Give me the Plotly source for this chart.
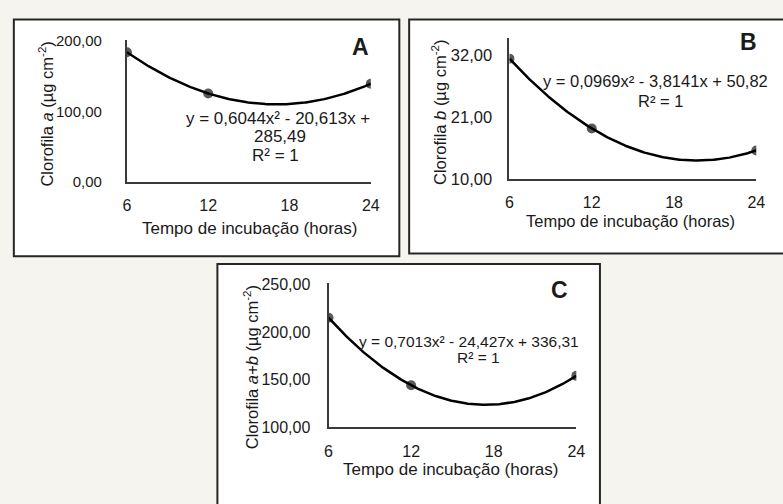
import numpy as np
import plotly.graph_objects as go

# ---------------- data ----------------
hours = [6, 12, 24]
chl_a = [183.57, 125.17, 138.91]
chl_b = [31.42, 19.00, 15.09]
chl_ab = [215.00, 144.17, 154.01]
x_ticks = [6, 12, 18, 24]
y_ticks_a = [0, 100, 200]
y_ticks_b = [10, 21, 32]
y_ticks_ab = [100, 150, 200, 250]
eq_a = ["y = 0,6044x² - 20,613x +", "285,49", "R² = 1"]
eq_b = ["y = 0,0969x² - 3,8141x + 50,82", "R² = 1"]
eq_ab = ["y = 0,7013x² - 24,427x + 336,31", "R² = 1"]

W, H = 783, 504
FONT = "Liberation Sans, Arial, sans-serif"


def px(x):
    return x / W


def py(y):
    return 1 - y / H


def fmt(v):
    return f"{v:.2f}".replace(".", ",")


fig = go.Figure()

panels = [
    dict(x="x", y="y", vals=chl_a),
    dict(x="x2", y="y2", vals=chl_b),
    dict(x="x3", y="y3", vals=chl_ab),
]

for p in panels:
    coef = np.polyfit(hours, p["vals"], 2)
    xs = np.linspace(min(hours), max(hours), 200)
    fig.add_trace(go.Scatter(x=hours, y=p["vals"], mode="markers",
                             marker=dict(color="#595959", size=10),
                             xaxis=p["x"], yaxis=p["y"], showlegend=False,
                             hoverinfo="skip"))
    fig.add_trace(go.Scatter(x=xs, y=np.polyval(coef, xs), mode="lines",
                             line=dict(color="black", width=2.5),
                             xaxis=p["x"], yaxis=p["y"], showlegend=False,
                             hoverinfo="skip"))

axis_common = dict(showgrid=False, zeroline=False, showline=True,
                   linecolor="#3a3a3a", linewidth=2, ticks="",
                   tickfont=dict(family=FONT, size=16, color="#1a1a1a"))

layout = dict(
    width=W, height=H,
    margin=dict(l=0, r=0, t=0, b=0),
    paper_bgcolor="#f5f4ef",
    plot_bgcolor="rgba(0,0,0,0)",
    font=dict(family=FONT, color="#1a1a1a"),
    showlegend=False,
)

# Panel A axes
layout["xaxis"] = dict(axis_common, domain=[px(125), px(373)], range=[6, 24],
                       tickvals=x_ticks, anchor="y", ticklabelstandoff=8)
layout["yaxis"] = dict(axis_common, domain=[py(180), py(33)], range=[0, 201],
                       tickvals=y_ticks_a, ticktext=[fmt(v) for v in y_ticks_a],
                       anchor="x", ticklabelstandoff=20,
                       tickfont=dict(family=FONT, size=15, color="#1a1a1a"))
# Panel B axes
layout["xaxis2"] = dict(axis_common, domain=[px(514), px(765)], range=[6, 24],
                        tickvals=x_ticks, anchor="y2", ticklabelstandoff=8)
layout["yaxis2"] = dict(axis_common, domain=[py(177), py(31)], range=[10, 35.1],
                        tickvals=y_ticks_b, ticktext=[fmt(v) for v in y_ticks_b],
                        anchor="x2", ticklabelstandoff=12,
                        tickfont=dict(family=FONT, size=16.5, color="#1a1a1a"))
# Panel C axes
layout["xaxis3"] = dict(axis_common, domain=[px(330), px(582)], range=[6, 24],
                        tickvals=x_ticks, anchor="y3", ticklabelstandoff=8)
layout["yaxis3"] = dict(axis_common, domain=[py(434), py(285)], range=[100, 251],
                        tickvals=y_ticks_ab, ticktext=[fmt(v) for v in y_ticks_ab],
                        anchor="x3", ticklabelstandoff=13)

fig.update_layout(**layout)

# Panel frames
frames = [(10, 12, 402, 257), (412, 12, 795, 254), (217, 265, 606, 515)]
for x0, y0, x1, y1 in frames:
    fig.add_shape(type="rect", xref="paper", yref="paper",
                  x0=px(x0), x1=px(x1), y0=py(y1), y1=py(y0),
                  fillcolor="white", line=dict(color="#262626", width=2),
                  layer="below")


def ann(text, x, y, size=16.5, angle=0, bold=False):
    t = f"<b>{text}</b>" if bold else text
    fig.add_annotation(text=t, x=px(x), y=py(y), xref="paper", yref="paper",
                       showarrow=False, xanchor="center", yanchor="middle",
                       textangle=angle,
                       font=dict(family=FONT, size=size, color="#1a1a1a"))


xtitle = "Tempo de incubação (horas)"
# axis titles
ann(xtitle, 250, 228, size=17)
ann("Clorofila <i>a</i> (µg cm<sup>-2</sup>)", 43, 110, angle=-90)
ann(xtitle, 637, 220)
ann("Clorofila <i>b</i> (µg cm<sup>-2</sup>)", 443, 108, angle=-90)
ann(xtitle, 454, 478, size=17)
ann("Clorofila <i>a+b</i> (µg cm<sup>-2</sup>)", 252, 372, angle=-90)

# panel letters
ann("A", 363, 40, size=23, bold=True)
ann("B", 757, 35, size=23, bold=True)
ann("C", 565, 292, size=23, bold=True)

# equations
for txt, (x, y) in zip(eq_a, [(279, 114), (281, 133), (276, 153)]):
    ann(txt, x, y, size=17)
for txt, (x, y) in zip(eq_b, [(662, 76), (668, 96)]):
    ann(txt, x, y)
for txt, (x, y) in zip(eq_ab, [(473, 345), (483, 362)]):
    ann(txt, x, y, size=15.5)

fig.write_html(
    "out.html",
    config={"displayModeBar": False},
    post_script="document.body.style.margin='0';document.body.style.overflow='hidden';",
)
